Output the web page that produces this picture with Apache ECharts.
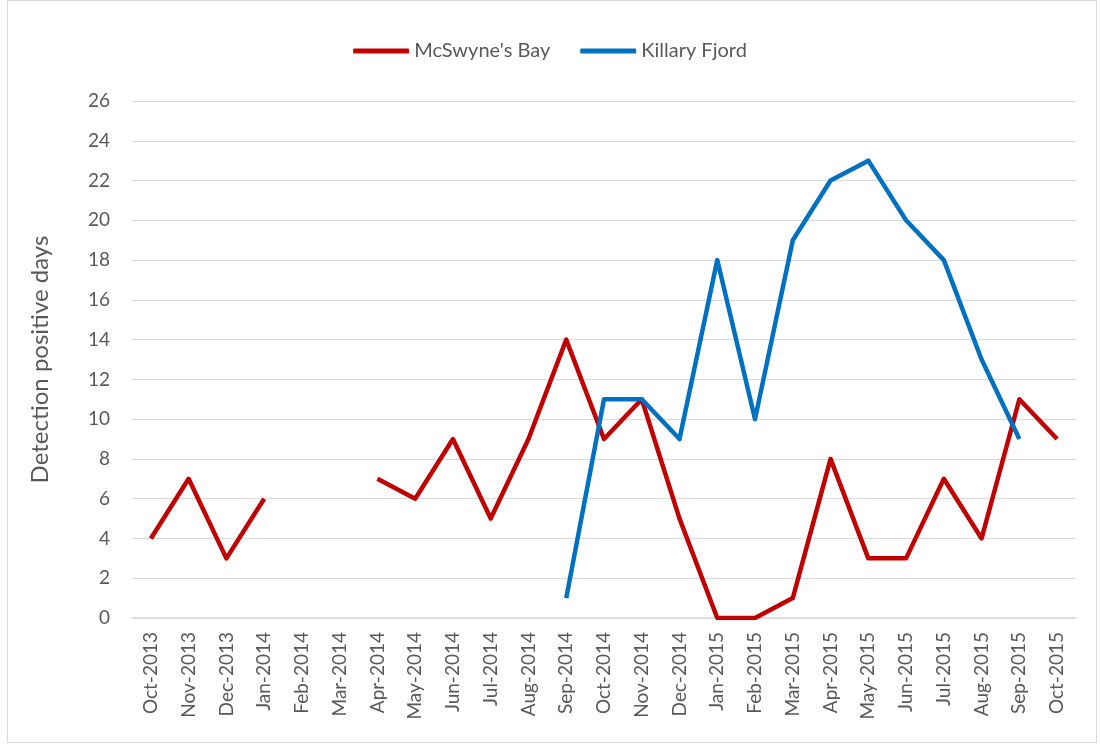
<!DOCTYPE html>
<html>
<head>
<meta charset="utf-8">
<script src="https://cdn.jsdelivr.net/npm/echarts@6/dist/echarts.min.js"></script>
<style>
html,body{margin:0;padding:0;background:#fff;}
#chart{width:1100px;height:745px;}
.frame{position:absolute;left:7px;top:0px;width:1090px;height:743px;border:1px solid #d9d9d9;box-sizing:border-box;pointer-events:none;}
</style>
</head>
<body>
<div id="chart"></div>
<div class="frame"></div>
<script>
const months = ["Oct-2013","Nov-2013","Dec-2013","Jan-2014","Feb-2014","Mar-2014","Apr-2014","May-2014","Jun-2014","Jul-2014","Aug-2014","Sep-2014","Oct-2014","Nov-2014","Dec-2014","Jan-2015","Feb-2015","Mar-2015","Apr-2015","May-2015","Jun-2015","Jul-2015","Aug-2015","Sep-2015","Oct-2015"]
const mcswyne = [4,7,3,6,null,null,7,6,9,5,9,14,9,11,5,0,0,1,8,3,3,7,4,11,9]
const killary = [null,null,null,null,null,null,null,null,null,null,null,1,11,11,9,18,10,19,22,23,20,18,13,9,null]
const yTicks = [0,2,4,6,8,10,12,14,16,18,20,22,24,26]

let myChart = echarts.init(document.getElementById("chart"))
myChart.setOption({
  animation:false,
  textStyle:{fontFamily:"Lato, Open Sans, sans-serif"},
  legend:{
    top:36,
    left:"center",
    itemWidth:56,
    itemHeight:5,
    itemGap:30,
    icon:"roundRect",
    textStyle:{color:"#595959",fontSize:20},
    data:["McSwyne's Bay","Killary Fjord"]
  },
  grid:{left:132,right:24,top:101,bottom:127},
  xAxis:{
    type:"category",
    data:months,
    boundaryGap:true,
    axisLine:{lineStyle:{color:"#d9d9d9",width:1.5}},
    axisTick:{show:false},
    axisLabel:{rotate:90,color:"#595959",fontSize:19,interval:0,margin:14}
  },
  yAxis:{
    type:"value",
    min:yTicks[0],
    max:yTicks[yTicks.length-1],
    interval:2,
    name:"Detection positive days",
    nameLocation:"middle",
    nameGap:80,
    nameTextStyle:{color:"#595959",fontSize:24},
    axisLine:{show:false},
    axisTick:{show:false},
    axisLabel:{color:"#595959",fontSize:19,margin:22},
    splitLine:{lineStyle:{color:"#d9d9d9",width:1}}
  },
  series:[
    {
      name:"McSwyne's Bay",
      type:"line",
      data:mcswyne,
      symbol:"none",
      connectNulls:false,
      lineStyle:{color:"#c00000",width:4.5,join:"round"},
      itemStyle:{color:"#c00000"}
    },
    {
      name:"Killary Fjord",
      type:"line",
      data:killary,
      symbol:"none",
      lineStyle:{color:"#0070c0",width:4.5,join:"round"},
      itemStyle:{color:"#0070c0"}
    }
  ]
})
</script>
</body>
</html>
